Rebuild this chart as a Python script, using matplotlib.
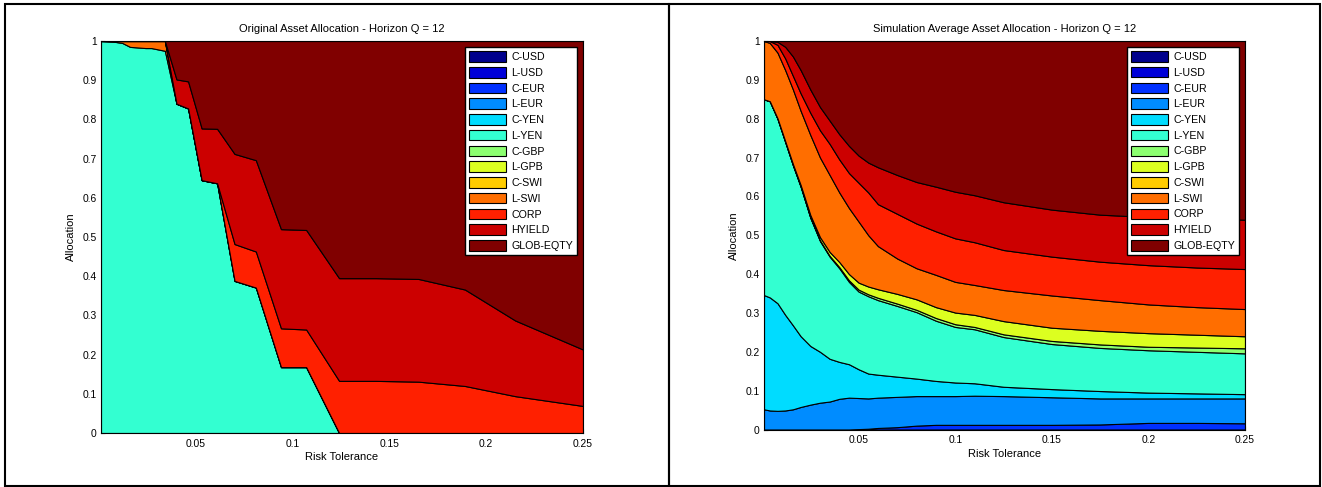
import matplotlib.pyplot as plt
from matplotlib.patches import Patch, Rectangle

plt.rcParams['font.family'] = ['Liberation Sans', 'DejaVu Sans']


# Asset classes and the colours used for them (bottom of the stack first).
asset_names = ["C-USD", "L-USD", "C-EUR", "L-EUR", "C-YEN", "L-YEN", "C-GBP",
               "L-GPB", "C-SWI", "L-SWI", "CORP", "HYIELD", "GLOB-EQTY"]
asset_colors = ["#00008c", "#0000d8", "#0030ff", "#008cff", "#00dcff", "#33ffd1",
                "#8cff70", "#dcff20", "#ffcc00", "#ff6e00", "#ff2000", "#cc0000",
                "#800000"]

# Original allocation (left panel) - values read at the kink points.
orig_risk = [0.001, 0.008, 0.012, 0.016, 0.024, 0.027, 0.034, 0.040, 0.046, 0.053,
             0.061, 0.070, 0.081, 0.094, 0.107, 0.124, 0.143, 0.165, 0.189, 0.215, 0.25]
orig_lyen = [1.0, 0.998, 0.995, 0.985, 0.982, 0.982, 0.975, 0.840, 0.828, 0.645,
             0.637, 0.388, 0.371, 0.168, 0.168, 0.0, 0.0, 0.0, 0.0, 0.0, 0.0]
orig_lswi = [0.0, 0.002, 0.005, 0.015, 0.018, 0.018, 0.025, 0.0, 0.0, 0.0,
             0.0, 0.0, 0.0, 0.0, 0.0, 0.0, 0.0, 0.0, 0.0, 0.0, 0.0]
orig_corp = [0.0, 0.0, 0.0, 0.0, 0.0, 0.0, 0.0, 0.0, 0.0, 0.0,
             0.0, 0.094, 0.092, 0.099, 0.096, 0.133, 0.133, 0.131, 0.120, 0.094, 0.069]
orig_hyield = [0.0, 0.0, 0.0, 0.0, 0.0, 0.0, 0.0, 0.062, 0.069, 0.132,
               0.139, 0.230, 0.233, 0.253, 0.254, 0.262, 0.262, 0.262, 0.246, 0.193, 0.144]
orig_glob = [0.0, 0.0, 0.0, 0.0, 0.0, 0.0, 0.0, 0.098, 0.103, 0.223,
             0.224, 0.288, 0.304, 0.480, 0.482, 0.605, 0.605, 0.607, 0.634, 0.713, 0.787]

# Simulation average allocation (right panel).
sim_risk = [0.001, 0.004, 0.008, 0.012, 0.016, 0.02, 0.025, 0.03, 0.035, 0.04, 0.045,
            0.05, 0.055, 0.06, 0.07, 0.08, 0.09, 0.1, 0.11, 0.125, 0.15, 0.175, 0.2,
            0.225, 0.25]
sim_ceur = [0.0, 0.0, 0.0, 0.0, 0.0, 0.0, 0.0, 0.0, 0.0, 0.0, 0.0,
            0.001, 0.002, 0.004, 0.006, 0.010, 0.012, 0.012, 0.012, 0.012, 0.012, 0.013,
            0.017, 0.017, 0.016]
sim_leur = [0.052, 0.049, 0.048, 0.049, 0.052, 0.058, 0.064, 0.069, 0.072, 0.079, 0.082,
            0.080, 0.078, 0.078, 0.078, 0.076, 0.074, 0.074, 0.075, 0.074, 0.071, 0.067,
            0.063, 0.063, 0.064]
sim_cyen = [0.294, 0.291, 0.277, 0.246, 0.216, 0.182, 0.151, 0.131, 0.110, 0.095, 0.086,
            0.074, 0.064, 0.059, 0.052, 0.045, 0.039, 0.035, 0.032, 0.024, 0.021, 0.019,
            0.015, 0.013, 0.011]
sim_lyen = [0.504, 0.505, 0.475, 0.445, 0.412, 0.385, 0.330, 0.285, 0.263, 0.241, 0.212,
            0.200, 0.199, 0.192, 0.182, 0.171, 0.155, 0.143, 0.139, 0.128, 0.116, 0.111,
            0.109, 0.107, 0.105]
sim_cgbp = [0.0, 0.0, 0.0, 0.0, 0.0, 0.0, 0.001, 0.002, 0.002, 0.003, 0.004,
            0.005, 0.005, 0.006, 0.006, 0.006, 0.007, 0.007, 0.006, 0.007, 0.008, 0.009,
            0.009, 0.011, 0.013]
sim_lgpb = [0.0, 0.0, 0.001, 0.002, 0.003, 0.004, 0.006, 0.008, 0.010, 0.013, 0.016,
            0.018, 0.020, 0.022, 0.025, 0.027, 0.028, 0.030, 0.031, 0.034, 0.034, 0.035,
            0.035, 0.033, 0.031]
sim_lswi = [0.150, 0.150, 0.169, 0.183, 0.192, 0.191, 0.206, 0.205, 0.198, 0.179, 0.170,
            0.157, 0.132, 0.111, 0.091, 0.080, 0.083, 0.079, 0.077, 0.080, 0.083, 0.079,
            0.074, 0.071, 0.070]
sim_corp = [0.0, 0.005, 0.020, 0.030, 0.035, 0.045, 0.057, 0.070, 0.080, 0.085, 0.090,
            0.100, 0.110, 0.108, 0.115, 0.115, 0.112, 0.112, 0.110, 0.103, 0.100, 0.099,
            0.101, 0.102, 0.103]
sim_hyield = [0.0, 0.0, 0.008, 0.030, 0.050, 0.060, 0.060, 0.060, 0.060, 0.065, 0.070,
              0.070, 0.077, 0.095, 0.100, 0.107, 0.115, 0.120, 0.121, 0.123, 0.121, 0.121,
              0.124, 0.126, 0.127]
sim_glob = [0.0, 0.0, 0.002, 0.015, 0.040, 0.075, 0.125, 0.170, 0.205, 0.240, 0.270,
            0.295, 0.313, 0.325, 0.345, 0.363, 0.375, 0.388, 0.397, 0.415, 0.434, 0.447,
            0.453, 0.457, 0.460]

x_ticks = [0.05, 0.1, 0.15, 0.2, 0.25]
x_tick_labels = ["0.05", "0.1", "0.15", "0.2", "0.25"]
y_ticks = [0, 0.1, 0.2, 0.3, 0.4, 0.5, 0.6, 0.7, 0.8, 0.9, 1]
y_tick_labels = ["0", "0.1", "0.2", "0.3", "0.4", "0.5", "0.6", "0.7", "0.8", "0.9", "1"]

# Series that are non-zero in each panel, with their index in asset_names.
orig_series = [(5, orig_lyen), (9, orig_lswi), (10, orig_corp),
               (11, orig_hyield), (12, orig_glob)]
sim_series = [(2, sim_ceur), (3, sim_leur), (4, sim_cyen), (5, sim_lyen),
              (6, sim_cgbp), (7, sim_lgpb), (9, sim_lswi), (10, sim_corp),
              (11, sim_hyield), (12, sim_glob)]

W, H = 1322, 487
fig = plt.figure(figsize=(W / 100, H / 100), dpi=100)

panels = [
    ("Original Asset Allocation - Horizon Q = 12", orig_risk, orig_series,
     [101 / W, 1 - 433 / H, 482 / W, 392 / H]),
    ("Simulation Average Asset Allocation - Horizon Q = 12", sim_risk, sim_series,
     [764 / W, 1 - 429.5 / H, 481 / W, 388.5 / H]),
]

for title, risk, series, rect in panels:
    ax = fig.add_axes(rect)
    ax.stackplot(risk, *[vals for _, vals in series],
                 colors=[asset_colors[i] for i, _ in series],
                 edgecolor="black", linewidth=0.8)
    ax.set_xlim(0.001, 0.25)
    ax.set_ylim(0, 1)
    ax.set_axisbelow(True)
    ax.set_xticks(x_ticks, x_tick_labels)
    ax.set_yticks(y_ticks, y_tick_labels)
    ax.tick_params(direction="in", length=3, labelsize=7.4, colors="black")
    ax.tick_params(axis="x", pad=4)
    ax.tick_params(axis="y", pad=3)
    for spine in ax.spines.values():
        spine.set_linewidth(0.8)
    ax.set_title(title, fontsize=8.0, pad=6.5)
    ax.set_xlabel("Risk Tolerance", fontsize=8.0, labelpad=2.5)
    ax.set_ylabel("Allocation", fontsize=8.0, labelpad=4.5)

    # Legend lists every asset class, including the empty ones.
    handles = [Patch(facecolor=c, edgecolor="black", linewidth=0.8, label=n)
               for n, c in zip(asset_names, asset_colors)]
    leg = ax.legend(handles=handles, loc="upper right", bbox_to_anchor=(0.988, 0.985),
                    borderaxespad=0, fontsize=7.7, fancybox=False, framealpha=1,
                    edgecolor="black", handlelength=3.5, handleheight=1.15,
                    handletextpad=0.45, labelspacing=0.45, borderpad=0.4)
    leg.get_frame().set_linewidth(1.0)

# Black frames round the two pictures, as in the source document.
for x0, x1 in [(5, 669), (669, 1320)]:
    fig.add_artist(Rectangle((x0 / W, 1 - 485.5 / H), (x1 - x0) / W, 481.5 / H,
                             transform=fig.transFigure, fill=False,
                             edgecolor="black", linewidth=1.5))

fig.savefig("out.png", dpi=100)
